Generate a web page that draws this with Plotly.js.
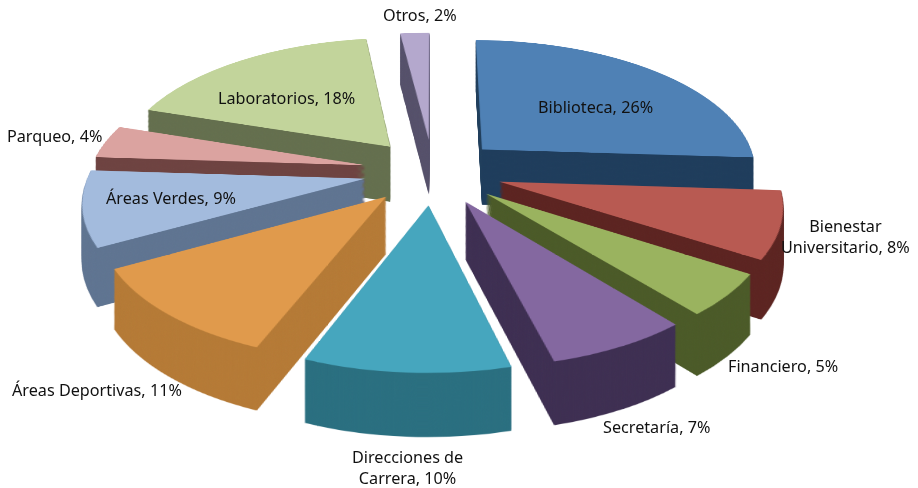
<!DOCTYPE html>
<html><head><meta charset="utf-8">
<script src="https://cdn.plot.ly/plotly-3.0.1.min.js"></script>
<style>
html,body{margin:0;padding:0;background:#fff;width:918px;height:488px;overflow:hidden}
.disc{position:absolute;left:83px;top:-176px;width:700px;height:700px;transform-origin:350px 345px}
#labels{position:absolute;left:0;top:0;width:918px;height:488px}
</style></head><body>
<div id="stack"></div><div id="labels"></div>
<script>
const categories=["Biblioteca","Bienestar Universitario","Financiero","Secretaría","Direcciones de Carrera","Áreas Deportivas","Áreas Verdes","Parqueo","Laboratorios","Otros"];
const shares=[26,8,5,7,10,11,9,4,18,2];
const labelTexts=["Biblioteca, 26%","Bienestar<br>Universitario, 8%","Financiero, 5%","Secretaría, 7%","Direcciones de<br>Carrera, 10%","Áreas Deportivas, 11%","Áreas Verdes, 9%","Parqueo, 4%","Laboratorios, 18%","Otros, 2%"];
const labelX=[595,845,783,656,407,97,171,54,286,420];
const labelY=[107,236,366,427,467,390,198,136,98,15];
const topColors=["#4f81b5","#b85a52","#9ab35f","#8468a0","#46a6be","#e09a4c","#a3bbdd","#dba3a0","#c2d49b","#b4a8cd"];
const sideColors=["#1f3d5c","#5c2421","#4b5a28","#3e2f52","#2a6f80","#b57a36","#5f7491","#6e4341","#646f4e","#55506a"];
const rightSide=[true,true,true,true,true,false,false,false,false,false];

const SIZE=700, R=275, PULL=0.25, LAYERS=64, DROP=56, GROW=0.04;
const half=R*(1+PULL)/SIZE;
const total=shares.reduce((a,b)=>a+b,0);
const hide='rgba(0,0,0,0)';
function pieTrace(colors,reversed,show){
  const idx=shares.map((_,i)=>i);
  const order=reversed?idx.slice().reverse():idx;
  return {type:'pie',labels:order.map(i=>categories[i]),values:order.map(i=>shares[i]),sort:false,
    direction:reversed?'counterclockwise':'clockwise',
    rotation:reversed?-360*shares[order[0]]/total:0,
    pull:order.map(()=>PULL),textinfo:'none',hoverinfo:'skip',showlegend:false,
    marker:{colors:order.map(i=>show(i)?colors[i]:hide),line:{width:0}},
    domain:{x:[0.5-half,0.5+half],y:[0.5-half,0.5+half]}};
}
function addLayer(t,traces){
  const d=document.createElement('div');
  d.className='disc';
  d.style.transform=`translateY(${(t*DROP).toFixed(2)}px) scaleY(${(1+GROW*t).toFixed(4)}) perspective(1639px) rotateX(61.6deg)`;
  document.getElementById('stack').appendChild(d);
  Plotly.newPlot(d,traces,{width:SIZE,height:SIZE,margin:{l:0,r:0,t:0,b:0},paper_bgcolor:'rgba(0,0,0,0)',showlegend:false},{displayModeBar:false,staticPlot:true});
}
for(let k=LAYERS;k>0;k--){
  addLayer(k/LAYERS,[pieTrace(sideColors,true,i=>!rightSide[i]),pieTrace(sideColors,false,i=>rightSide[i])]);
}
addLayer(0,[pieTrace(topColors,false,()=>true)]);

Plotly.newPlot('labels',[],{width:918,height:488,margin:{l:0,r:0,t:0,b:0},paper_bgcolor:'rgba(0,0,0,0)',plot_bgcolor:'rgba(0,0,0,0)',
  xaxis:{visible:false,range:[0,918],fixedrange:true},yaxis:{visible:false,range:[488,0],fixedrange:true},
  annotations:labelTexts.map((t,i)=>({text:t,x:labelX[i],y:labelY[i],xref:'x',yref:'y',showarrow:false,align:'center',
    font:{family:'"Noto Sans",sans-serif',size:16.2,color:'#111'}}))},{displayModeBar:false,staticPlot:true});
</script></body></html>
